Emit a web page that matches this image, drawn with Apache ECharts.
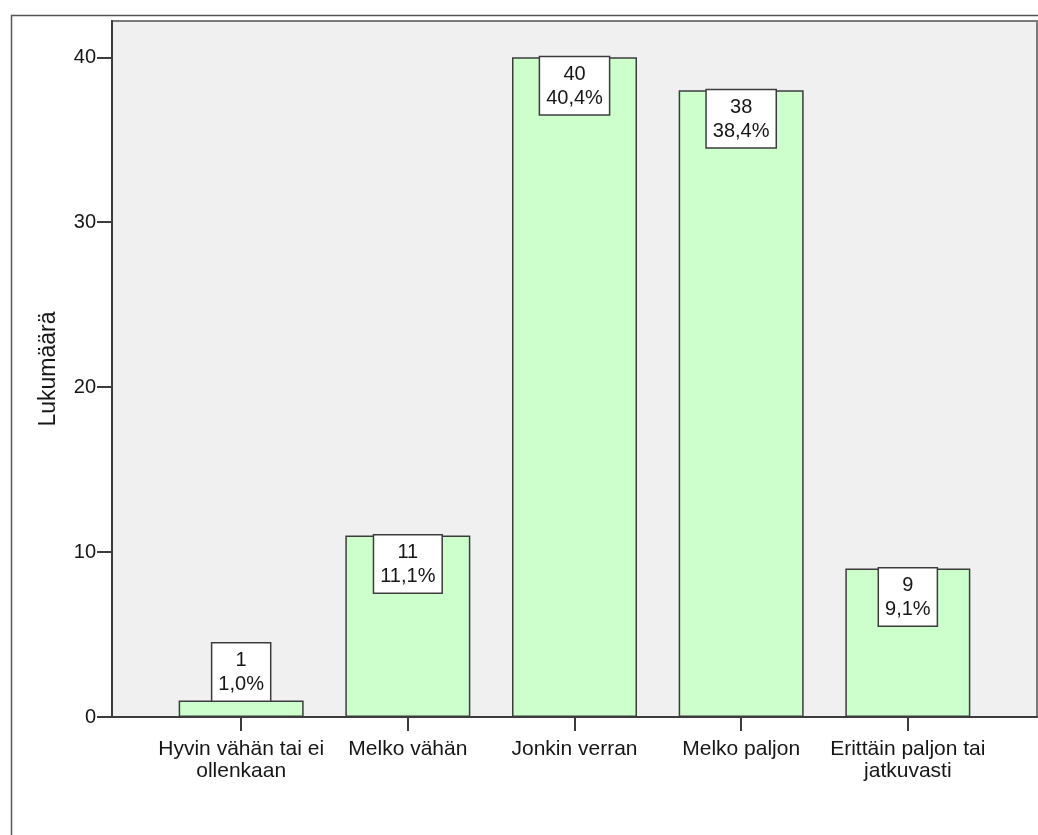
<!DOCTYPE html>
<html>
<head>
<meta charset="utf-8">
<title>Lukumäärä</title>
<script src="https://cdn.jsdelivr.net/npm/echarts@6/dist/echarts.min.js"></script>
<style>
  html, body { margin: 0; padding: 0; background: #ffffff; }
  #chart { width: 1038px; height: 835px; }
</style>
</head>
<body>
<div id="chart"></div>
<script>
// Answer categories (line breaks as printed under the axis)
const categories = [
  'Hyvin vähän tai ei\nollenkaan',
  'Melko vähän',
  'Jonkin verran',
  'Melko paljon',
  'Erittäin paljon tai\njatkuvasti'
];
// Respondent counts per category
const counts = [1, 11, 40, 38, 9];
// Y axis tick values
const yTicks = [0, 10, 20, 30, 40];

const total = counts.reduce((a, b) => a + b, 0);
const pctText = v => (v / total * 100).toFixed(1).replace('.', ',') + '%';
const catIndex = categories.map((_, i) => i);

const FONT = 'Liberation Sans';
const INK = '#161616';

const chart = echarts.init(document.getElementById('chart'), null, { renderer: 'canvas' });

const barData = counts.map((v, i) => ({
  value: [i, v],
  label: { position: v < 4 ? 'top' : 'insideTop' }
}));

chart.setOption({
  backgroundColor: '#ffffff',
  animation: false,
  textStyle: { fontFamily: FONT },
  graphic: [{
    type: 'rect',
    left: 9, top: 13,
    shape: { width: 1100, height: 900 },
    style: { fill: 'none', stroke: '#555', lineWidth: 1.5 },
    silent: true
  }],
  grid: {
    left: 112, right: 1, top: 21, bottom: 118,
    show: true,
    backgroundColor: '#f0f0f0',
    borderColor: '#7a7a7a',
    borderWidth: 2
  },
  xAxis: {
    type: 'value',
    min: -0.775,
    max: 4.775,
    splitLine: { show: false },
    axisLine: { show: true, onZero: false, lineStyle: { color: '#3c3c3c', width: 2 } },
    axisTick: { show: true, length: 14, customValues: catIndex, lineStyle: { color: '#3c3c3c', width: 2 } },
    axisLabel: {
      customValues: catIndex,
      formatter: v => categories[Math.round(v)],
      margin: 21,
      fontFamily: FONT,
      fontSize: 21,
      lineHeight: 22,
      color: INK,
      align: 'center'
    }
  },
  yAxis: {
    type: 'value',
    min: 0,
    max: 42.2,
    interval: 10,
    name: 'Lukumäärä',
    nameLocation: 'middle',
    nameGap: 52,
    nameTextStyle: { fontFamily: FONT, fontSize: 23, color: INK },
    splitLine: { show: false },
    axisLine: { show: true, onZero: false, lineStyle: { color: '#3c3c3c', width: 2 } },
    axisTick: { show: true, length: 15, customValues: yTicks, lineStyle: { color: '#3c3c3c', width: 2 } },
    axisLabel: {
      customValues: yTicks,
      margin: 16,
      fontFamily: FONT,
      fontSize: 20,
      color: INK
    }
  },
  series: [{
    type: 'bar',
    barWidth: 125,
    data: barData,
    itemStyle: { color: '#ccffcc', borderColor: '#3c3c3c', borderWidth: 1.5 },
    label: {
      show: true,
      distance: 0,
      formatter: p => p.value[1] + '\n' + pctText(p.value[1]),
      fontFamily: FONT,
      fontSize: 20,
      lineHeight: 24,
      color: INK,
      align: 'center',
      backgroundColor: '#ffffff',
      borderColor: '#3c3c3c',
      borderWidth: 1.5,
      padding: [5, 6, 4, 6]
    }
  }]
});
</script>
</body>
</html>
